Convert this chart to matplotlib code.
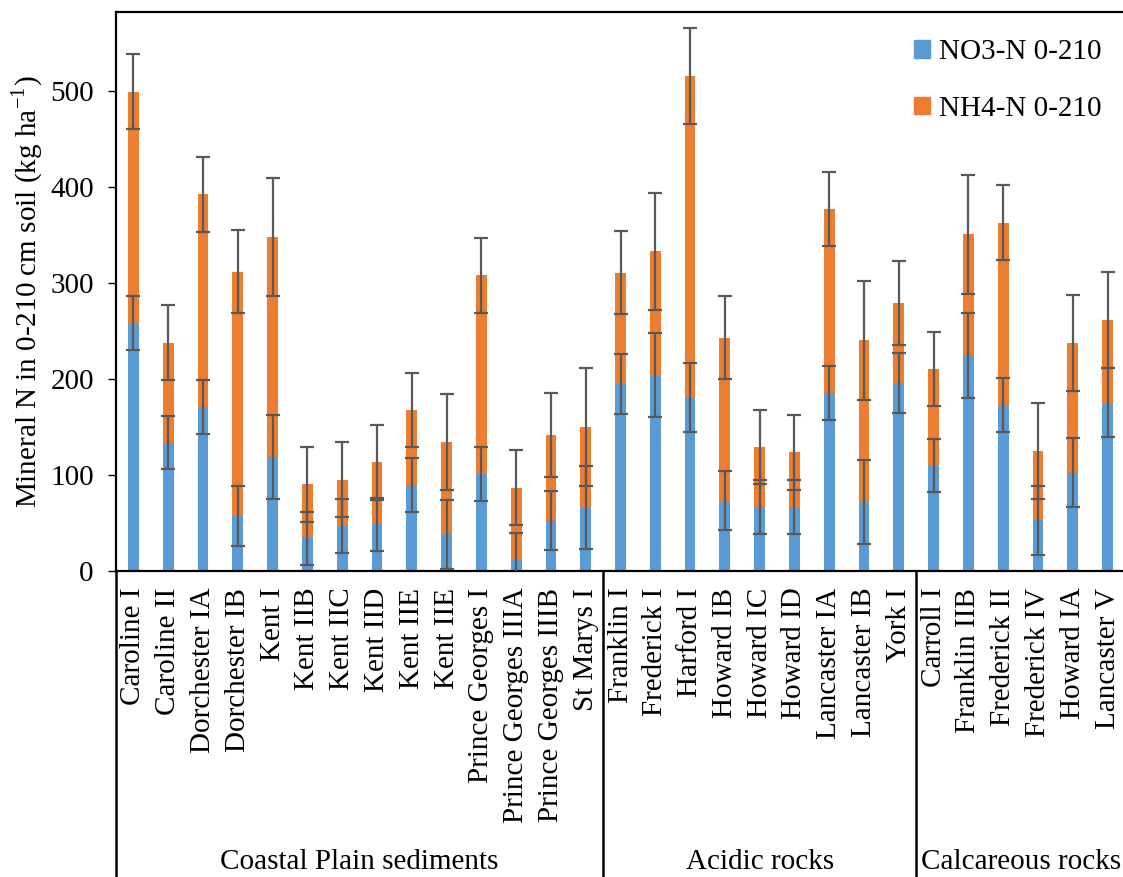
import numpy as np
import matplotlib
matplotlib.use("Agg")
import matplotlib.pyplot as plt
from matplotlib.patches import Patch

plt.rcParams['font.family'] = ['Liberation Serif', 'DejaVu Serif']
plt.rcParams['mathtext.fontset'] = 'stix'

sites = ["Caroline I", "Caroline II", "Dorchester IA", "Dorchester IB", "Kent I",
         "Kent IIB", "Kent IIC", "Kent IID", "Kent IIE", "Kent IIE",
         "Prince Georges I", "Prince Georges IIIA", "Prince Georges IIIB", "St Marys I",
         "Franklin I", "Frederick I", "Harford I", "Howard IB", "Howard IC",
         "Howard ID", "Lancaster IA", "Lancaster IB", "York I",
         "Carroll I", "Franklin IIB", "Frederick II", "Frederick IV", "Howard IA",
         "Lancaster V"]
groups = ["Coastal Plain sediments", "Acidic rocks", "Calcareous rocks"]
group_sizes = [14, 9, 6]

no3 = [258.5, 133.7, 170.6, 57.0, 118.6, 33.9, 47.0, 48.5, 89.4, 38.1,
       101.3, 11.9, 52.4, 65.9,
       194.9, 204.2, 180.3, 73.2, 67.0, 66.3, 185.3, 72.0, 196.0,
       109.8, 224.6, 172.6, 52.8, 102.5, 175.3]
total = [499.0, 237.7, 392.0, 311.6, 347.8, 90.5, 95.1, 113.2, 167.6, 134.0,
         308.0, 86.7, 141.8, 150.2,
         310.5, 332.8, 515.4, 243.0, 129.0, 123.7, 377.0, 240.4, 279.3,
         210.3, 350.5, 362.5, 125.2, 237.3, 261.2]
nh4 = [round(t - n, 1) for t, n in zip(total, no3)]
no3_err = [28, 28, 28, 31, 44, 28, 28, 28, 28, 36,
           28, 28, 31, 43.5,
           31, 43.5, 36, 31, 28, 28, 28, 44, 31,
           28, 44, 28, 36, 36, 36]
nh4_err = [39, 39, 39, 43, 61.5, 39, 39, 39, 39, 50,
           39, 39, 44, 61.5,
           43, 61, 50, 43.5, 38.5, 39, 38.5, 62, 43.5,
           39, 61.6, 39, 50, 50, 50]

blue = "#5B9BD5"
orange = "#ED7D31"
err_col = "#595959"
fs = 21

fig = plt.figure(figsize=(11.23, 8.77), dpi=100)
ax = fig.add_axes([116 / 1123, 1 - 571 / 877, 1009 / 1123, 559 / 877])

x = np.arange(len(sites))
w = 0.31
ax.bar(x, no3, w, color=blue, zorder=2)
ax.bar(x, nh4, w, bottom=no3, color=orange, zorder=2)
ekw = dict(fmt='none', ecolor=err_col, elinewidth=1.6, capsize=5, capthick=1.6, zorder=3)
ax.errorbar(x, no3, yerr=no3_err, **ekw)
ax.errorbar(x, total, yerr=nh4_err, **ekw)

ax.set_xlim(-0.5, len(sites) - 0.5)
ax.set_ylim(0, 582)
ax.set_yticks([0, 100, 200, 300, 400, 500])
ax.tick_params(axis='y', labelsize=fs, length=6, width=1, direction='out', pad=10)
ax.set_xticks(x)
ax.set_xticklabels(sites, rotation=90, fontsize=fs, va='top', ha='center')
ax.tick_params(axis='x', length=0, pad=12)
for s in ax.spines.values():
    s.set_linewidth(1.6)
    s.set_color('black')
ax.spines['right'].set_visible(False)

ax.set_ylabel("Mineral N in 0-210 cm soil (kg ha$^{\\mathregular{-1}}$)", fontsize=fs,
              labelpad=4)

# group separators and group names below the site labels
trans = ax.get_xaxis_transform()
bounds = np.concatenate([[0], np.cumsum(group_sizes)]) - 0.5
for b in bounds[:-1]:
    ax.plot([b, b], [0, -0.6], color='black', lw=1.8, transform=trans, clip_on=False)
for name, lo, hi in zip(groups, bounds[:-1], bounds[1:]):
    ax.text((lo + hi) / 2, -0.52, name, transform=trans, ha='center', va='center',
            fontsize=fs)

handles = [Patch(color=blue, label="NO3-N 0-210"), Patch(color=orange, label="NH4-N 0-210")]
ax.legend(handles=handles, loc='upper left', bbox_to_anchor=(0.765, 0.998), frameon=False,
          fontsize=fs, handlelength=0.55, handleheight=0.55, handletextpad=0.3,
          labelspacing=1.05)

fig.savefig("out.png", dpi=100)
